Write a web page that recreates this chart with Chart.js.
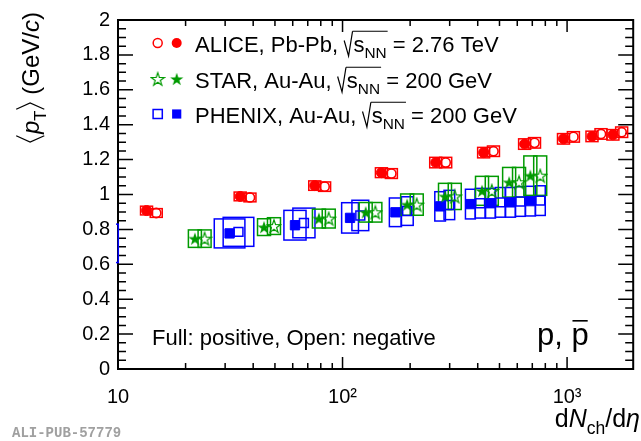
<!DOCTYPE html>
<html>
<head>
<meta charset="utf-8">
<title>Mean pT of protons vs dNch/deta</title>
<script src="https://cdn.jsdelivr.net/npm/chart.js@4.4.0/dist/chart.umd.min.js"></script>
<style>
  html, body { margin: 0; padding: 0; background: #fff; }
  #wrap { width: 641px; height: 441px; position: relative; }
</style>
</head>
<body>
<div id="wrap"><canvas id="mean-pt-chart"></canvas></div>
<script>
// --- Data --- //
// ALICE Pb-Pb 2.76 TeV: p (full) and pbar (open)
const aliceNchPos = [13.4, 35.0, 75.2, 149, 260, 425, 647, 964, 1291, 1600];
const aliceNchNeg = [14.8, 38.7, 83.2, 165, 288, 470, 716, 1067, 1416, 1750];
const alicePtPos = [0.908, 0.989, 1.051, 1.125, 1.183, 1.240, 1.289, 1.319, 1.333, 1.342];
const alicePtNeg = [0.894, 0.983, 1.045, 1.120, 1.183, 1.248, 1.296, 1.330, 1.347, 1.357];
const aliceSys = [0.025, 0.025, 0.027, 0.028, 0.030, 0.030, 0.030, 0.030, 0.030, 0.030];

// STAR Au-Au 200 GeV
const starNchPos = [22.0, 44.7, 78.5, 126.8, 194, 286, 418, 552, 686];
const starNchNeg = [24.3, 49.5, 86.8, 140, 214, 316, 462, 611, 759];
const starPtPos = [0.747, 0.813, 0.862, 0.898, 0.942, 0.989, 1.021, 1.070, 1.108];
const starPtNeg = [0.747, 0.819, 0.862, 0.898, 0.942, 0.989, 1.021, 1.070, 1.108];
const starSys = [0.050, 0.048, 0.054, 0.056, 0.061, 0.075, 0.083, 0.085, 0.113];

// PHENIX Au-Au 200 GeV (first bin sits just below dNch/deta = 10)
const phenixNchPos = [7.6, 31.4, 61.4, 108, 172, 272, 371, 456, 560, 687];
const phenixNchNeg = [8.5, 34.4, 67.3, 120, 194, 299, 410, 504, 619, 760];
const phenixPtPos = [0.700, 0.777, 0.824, 0.866, 0.898, 0.932, 0.945, 0.950, 0.955, 0.962];
const phenixPtNeg = [0.720, 0.786, 0.837, 0.880, 0.905, 0.940, 0.950, 0.955, 0.960, 0.965];
const phenixSys = [0.110, 0.083, 0.085, 0.087, 0.082, 0.084, 0.085, 0.085, 0.085, 0.085];
const phenixNchRel = [1.18, 1.17, 1.12, 1.09, 1.064, 1.056, 1.052, 1.052, 1.052, 1.052];

// Axis labels
const xTickValues = [10, 100, 1000];
const xTickText = ['10', '10\u00B2', '10\u00B3'];

// --- Styles --- //
const FONT = '"Liberation Sans", Arial, Helvetica, sans-serif';
const RED = '#ff0000';
const GREEN = '#009a00';
const BLUE = '#0000ff';
const BOX_HALF_PX = { alice: 6, star: 6.5 };

function makeStar(colour, filled) {
    const c = document.createElement('canvas');
    c.width = 16;
    c.height = 16;
    const g = c.getContext('2d');
    g.beginPath();
    for (let k = 0; k < 10; k++) {
        const r = k % 2 ? 2.7 : 6.9;
        const a = -Math.PI / 2 + k * Math.PI / 5;
        const px = 8 + r * Math.cos(a), py = 8.6 + r * Math.sin(a);
        if (k) g.lineTo(px, py); else g.moveTo(px, py);
    }
    g.closePath();
    if (filled) {
        g.fillStyle = colour;
        g.fill();
    } else {
        g.strokeStyle = colour;
        g.lineWidth = 1.2;
        g.stroke();
    }
    return c;
}
const starFull = makeStar(GREEN, true);
const starOpen = makeStar(GREEN, false);

const toPoints = (xs, ys) => xs.map((x, i) => ({ x: x, y: ys[i] }));

// --- Rich text helpers (italics, subscripts, radicals, angle brackets) --- //
function drawRich(ctx, x, y, parts, size, draw) {
    let cx = x, radStart = null;
    for (const p of parts) {
        if (p.rad === 'open') {
            if (draw) {
                ctx.beginPath();
                ctx.moveTo(cx, y - 0.50 * size);
                ctx.lineTo(cx + 0.20 * size, y + 0.20 * size);
                ctx.lineTo(cx + 0.38 * size, y - 0.92 * size);
                ctx.stroke();
            }
            radStart = cx + 0.38 * size;
            cx += 0.42 * size;
            continue;
        }
        if (p.rad === 'close') {
            if (draw) {
                ctx.beginPath();
                ctx.moveTo(radStart, y - 0.92 * size);
                ctx.lineTo(cx + 1, y - 0.92 * size);
                ctx.stroke();
            }
            continue;
        }
        if (p.angle) {
            const w = 0.26 * size;
            if (draw) {
                ctx.beginPath();
                const tip = p.angle === 'l' ? cx + 0.05 * size : cx + 0.05 * size + w;
                const back = p.angle === 'l' ? cx + 0.05 * size + w : cx + 0.05 * size;
                ctx.moveTo(back, y - 0.95 * size);
                ctx.lineTo(tip, y - 0.37 * size);
                ctx.lineTo(back, y + 0.22 * size);
                ctx.stroke();
            }
            cx += w + 0.12 * size;
            continue;
        }
        const fs = p.sub ? size * 0.7 : size;
        ctx.font = (p.it ? 'italic ' : '') + fs + 'px ' + FONT;
        if (draw) ctx.fillText(p.t, cx, y + (p.sub ? size * 0.28 : 0));
        cx += ctx.measureText(p.t).width;
    }
    return cx - x;
}

const legendRows = [
    { label: 'ALICE, Pb-Pb, ', energy: ' = 2.76 TeV', colour: RED, kind: 'circle', y: 43 },
    { label: 'STAR, Au-Au, ', energy: ' = 200 GeV', colour: GREEN, kind: 'star', y: 79 },
    { label: 'PHENIX, Au-Au, ', energy: ' = 200 GeV', colour: BLUE, kind: 'square', y: 114 }
];

function drawMarker(ctx, kind, colour, x, y, filled) {
    ctx.save();
    ctx.strokeStyle = colour;
    ctx.fillStyle = colour;
    ctx.lineWidth = 1.5;
    if (kind === 'star') {
        const img = filled ? starFull : starOpen;
        ctx.drawImage(img, x - 8, y - 8);
    } else {
        ctx.beginPath();
        if (kind === 'circle') ctx.arc(x, y, filled ? 5 : 4.5, 0, Math.PI * 2);
        else ctx.rect(x - 4.6, y - 4.6, 9.2, 9.2);
        if (filled) ctx.fill(); else ctx.stroke();
    }
    ctx.restore();
}

// --- Frame, inward ticks, systematic boxes and text --- //
const rootFrame = {
    id: 'rootFrame',
    beforeDatasetsDraw(chart) {
        const { ctx, chartArea: a, scales: { x: sx, y: sy } } = chart;
        ctx.save();
        ctx.strokeStyle = '#000';
        ctx.lineWidth = 2;
        ctx.strokeRect(a.left, a.top, a.right - a.left, a.bottom - a.top);

        ctx.lineWidth = 1.5;
        ctx.beginPath();
        for (let k = 0; k <= 40; k++) {
            const yp = sy.getPixelForValue(k * 0.05);
            const len = k % 4 === 0 ? 15 : 8;
            ctx.moveTo(a.left, yp); ctx.lineTo(a.left + len, yp);
            ctx.moveTo(a.right, yp); ctx.lineTo(a.right - len, yp);
        }
        for (let dec = 10; dec <= 1000; dec *= 10) {
            for (let m = 1; m <= 9; m++) {
                const v = dec * m;
                if (v > sx.max) break;
                const xp = sx.getPixelForValue(v);
                const len = m === 1 ? 12 : 6;
                ctx.moveTo(xp, a.bottom); ctx.lineTo(xp, a.bottom - len);
                ctx.moveTo(xp, a.top); ctx.lineTo(xp, a.top + len);
            }
        }
        ctx.stroke();

        // systematic uncertainty boxes
        ctx.beginPath();
        ctx.rect(a.left - 2, a.top, a.right - a.left + 4, a.bottom - a.top);
        ctx.clip();
        ctx.lineWidth = 1.5;
        const boxes = (xs, ys, err, colour, span) => {
            ctx.strokeStyle = colour;
            xs.forEach((xv, i) => {
                const [x0, x1] = span(i, sx.getPixelForValue(xv));
                const y0 = sy.getPixelForValue(ys[i] + err[i]);
                const y1 = sy.getPixelForValue(ys[i] - err[i]);
                ctx.strokeRect(x0, y0, x1 - x0, y1 - y0);
            });
        };
        const fixed = h => (i, xp) => [xp - h, xp + h];
        const phx = xs => i => [sx.getPixelForValue(xs[i] / phenixNchRel[i]), sx.getPixelForValue(xs[i] * phenixNchRel[i])];
        boxes(phenixNchPos, phenixPtPos, phenixSys, BLUE, phx(phenixNchPos));
        boxes(phenixNchNeg, phenixPtNeg, phenixSys, BLUE, phx(phenixNchNeg));
        boxes(starNchPos, starPtPos, starSys, GREEN, fixed(BOX_HALF_PX.star));
        boxes(starNchNeg, starPtNeg, starSys, GREEN, fixed(BOX_HALF_PX.star));
        boxes(aliceNchPos, alicePtPos, aliceSys, RED, fixed(BOX_HALF_PX.alice));
        boxes(aliceNchNeg, alicePtNeg, aliceSys, RED, fixed(BOX_HALF_PX.alice));
        ctx.restore();
    },
    afterDraw(chart) {
        const { ctx } = chart;
        ctx.save();
        ctx.fillStyle = '#000';
        ctx.strokeStyle = '#000';
        ctx.lineWidth = 1.2;
        ctx.textBaseline = 'alphabetic';

        // legend
        legendRows.forEach(row => {
            drawMarker(ctx, row.kind, row.colour, 157.7, row.y, false);
            drawMarker(ctx, row.kind, row.colour, 176.7, row.y, true);
            drawRich(ctx, 195, row.y + 8.5, [
                { t: row.label }, { rad: 'open' }, { t: 's' }, { t: 'NN', sub: true }, { rad: 'close' }, { t: row.energy }
            ], 22, true);
        });

        ctx.font = '22px ' + FONT;
        ctx.fillText('Full: positive, Open: negative', 152, 345);

        // p, pbar
        ctx.font = '31px ' + FONT;
        const pStart = 537 + ctx.measureText('p, ').width;
        ctx.fillText('p, p', 537, 345);
        ctx.lineWidth = 1.6;
        ctx.beginPath();
        ctx.moveTo(pStart + 1, 345 - 0.78 * 31);
        ctx.lineTo(pStart + ctx.measureText('p').width - 1, 345 - 0.78 * 31);
        ctx.stroke();

        // x title
        const xTitle = [{ t: 'd' }, { t: 'N', it: true }, { t: 'ch', sub: true }, { t: '/d' }, { t: '\u03B7', it: true }];
        const xw = drawRich(ctx, 0, 0, xTitle, 25, false);
        drawRich(ctx, 640 - xw, 427, xTitle, 25, true);

        // y title, rotated, ending near the top of the frame
        const yTitle = [{ angle: 'l' }, { t: 'p', it: true }, { t: 'T', sub: true }, { angle: 'r' }, { t: ' (GeV/' }, { t: 'c', it: true }, { t: ')' }];
        ctx.lineWidth = 1.3;
        const yw = drawRich(ctx, 0, 0, yTitle, 24, false);
        ctx.save();
        ctx.translate(39, 12 + yw);
        ctx.rotate(-Math.PI / 2);
        drawRich(ctx, 0, 0, yTitle, 24, true);
        ctx.restore();

        // publication tag
        ctx.font = 'bold 14px "Liberation Mono", "DejaVu Sans Mono", monospace';
        ctx.fillStyle = '#a0a0a0';
        ctx.fillText('ALI-PUB-57779', 12, 437);
        ctx.restore();
    }
};

// --- Chart --- //
const datasets = [
    { data: toPoints(aliceNchPos, alicePtPos), pointStyle: 'circle', radius: 5, backgroundColor: RED, borderColor: RED, borderWidth: 1 },
    { data: toPoints(aliceNchNeg, alicePtNeg), pointStyle: 'circle', radius: 4.6, backgroundColor: 'rgba(0,0,0,0)', borderColor: RED, borderWidth: 1.6 },
    { data: toPoints(starNchPos, starPtPos), pointStyle: starFull, borderColor: GREEN, backgroundColor: GREEN },
    { data: toPoints(starNchNeg, starPtNeg), pointStyle: starOpen, borderColor: GREEN, backgroundColor: GREEN },
    { data: toPoints(phenixNchPos, phenixPtPos), pointStyle: 'rect', radius: 6.6, backgroundColor: BLUE, borderColor: BLUE, borderWidth: 1 },
    { data: toPoints(phenixNchNeg, phenixPtNeg), pointStyle: 'rect', radius: 6.3, backgroundColor: 'rgba(0,0,0,0)', borderColor: BLUE, borderWidth: 1.5 }
];

const tickFont = { family: FONT, size: 20 };

new Chart(document.getElementById('mean-pt-chart'), {
    type: 'scatter',
    data: { datasets: datasets },
    options: {
        responsive: true,
        maintainAspectRatio: false,
        animation: false,
        events: [],
        layout: { padding: { top: 17, right: 1, left: 0, bottom: 0 } },
        plugins: { legend: { display: false }, tooltip: { enabled: false } },
        scales: {
            x: {
                type: 'logarithmic',
                min: 10,
                max: 1970,
                grid: { display: false, drawTicks: false },
                border: { display: false },
                afterBuildTicks: scale => { scale.ticks = xTickValues.map(v => ({ value: v })); },
                afterFit: scale => { scale.height = 72; },
                ticks: {
                    autoSkip: false,
                    maxRotation: 0,
                    padding: 16,
                    color: '#000',
                    font: tickFont,
                    callback: (value, index) => xTickText[index]
                }
            },
            y: {
                min: 0,
                max: 2,
                grid: { display: false, drawTicks: false },
                border: { display: false },
                afterFit: scale => { scale.width = 118; },
                ticks: {
                    stepSize: 0.2,
                    autoSkip: false,
                    padding: 8,
                    color: '#000',
                    font: tickFont,
                    callback: value => String(Math.round(value * 10) / 10)
                }
            }
        }
    },
    plugins: [rootFrame]
});
</script>
</body>
</html>
